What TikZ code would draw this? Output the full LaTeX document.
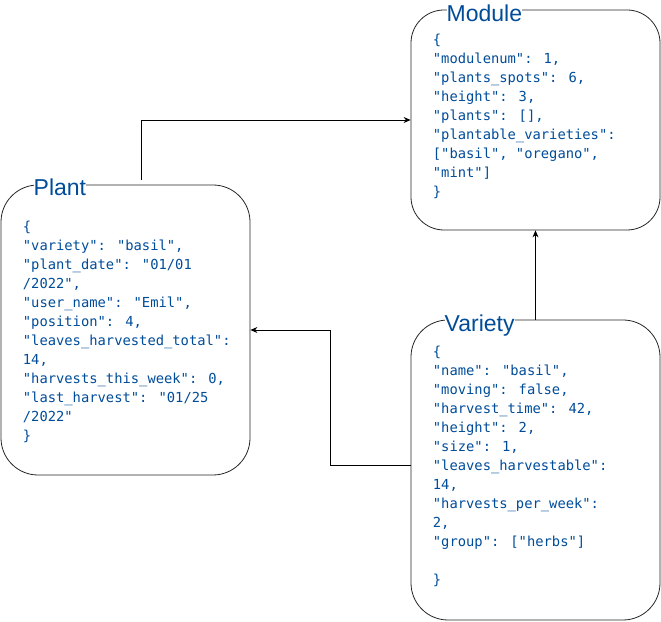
\documentclass[tikz,border=0pt]{standalone}
\usepackage{fontspec}
\setmainfont{Liberation Sans}
\newfontfamily\codefont{DejaVu Sans Mono}
\usetikzlibrary{arrows.meta}
\definecolor{txt}{HTML}{004C99}
\tikzset{
  x=1pt,y=1pt,
  boxshape/.style={draw=black!85,line width=0.8pt,rectangle,minimum width=249pt,inner sep=0pt},
  titletext/.style={font=\fontsize{23}{27}\selectfont,text=txt,fill=white,inner sep=0pt,anchor=base west},
  codetext/.style={font=\codefont\fontsize{13.8}{19}\selectfont,text=txt,inner sep=0pt,anchor=north west,align=left},
  conn/.style={draw=black,line width=0.8pt,-{Stealth[length=7pt,width=6pt]}}
}
\begin{document}
\begin{tikzpicture}
\useasboundingbox (0,0) rectangle (661,621);
% boxes
\node[boxshape,minimum height=220pt,rounded corners=33pt] (module) at (535.5,501) {};
\node[boxshape,minimum height=290pt,rounded corners=37pt] (plant) at (125.5,291) {};
\node[boxshape,minimum height=300pt,rounded corners=37pt] (variety) at (535.5,151) {};
% titles
\node[titletext] (moduletitle) at (446.5,599) {Module};
\node[titletext] (planttitle) at (33.5,425) {Plant};
\node[titletext] (varietytitle) at (444.5,289.5) {Variety};
% code texts
\node[codetext] (moduletext) at (432.7,590.3) {\strut\{\\
"modulenum": 1,\\
"plants\_spots": 6,\\
"height": 3,\\
"plants": {[]},\\
"plantable\_varieties":\\
{[}"basil", "oregano",\\
"mint"{]}\\
\}};
\node[codetext] (planttext) at (22.7,403.3) {\strut\{\\
"variety": "basil",\\
"plant\_date": "01/01\\
/2022",\\
"user\_name": "Emil",\\
"position": 4,\\
"leaves\_harvested\_total":\\
14,\\
"harvests\_this\_week": 0,\\
"last\_harvest": "01/25\\
/2022"\\
\}};
\node[codetext] (varietytext) at (432.7,278.3) {\strut\{\\
"name": "basil",\\
"moving": false,\\
"harvest\_time": 42,\\
"height": 2,\\
"size": 1,\\
"leaves\_harvestable":\\
14,\\
"harvests\_per\_week":\\
2,\\
"group": {[}"herbs"{]}\\
\strut\\
\}};
% connectors
\coordinate (plantout) at (141,441);
\draw[conn] (plantout) |- (module.west);
\draw[conn] (variety.north) -- (module.south);
\draw[conn] ([yshift=5pt]variety.west) -- ++(-80,0) |- (plant.east);
\end{tikzpicture}
\end{document}
